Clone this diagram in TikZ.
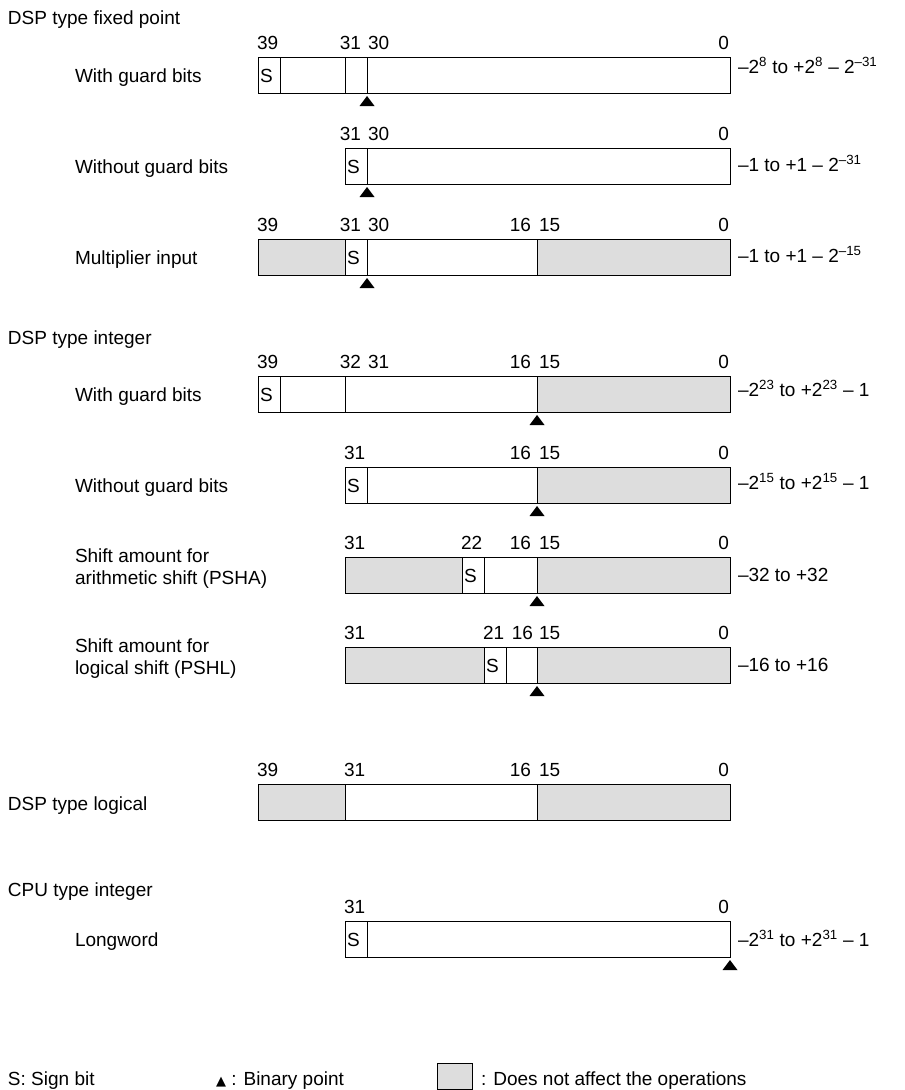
\documentclass[tikz,border=0pt]{standalone}
\usepackage{fontspec}
\setmainfont{Liberation Sans}
\newfontfamily\symfont{DejaVu Sans}
\definecolor{shade}{RGB}{221,221,221}
\newcommand\bcell[4]{\draw[#4] (#1,#3) rectangle (#2,#3+36);}
\newcommand\bpt[2]{\fill (#1,#2+3) -- (#1-7.5,#2+13) -- (#1+7.5,#2+13) -- cycle;}
\newcommand\sbit[2]{\node[anchor=base west] at (#1+2,#2+25) {S};}
\begin{document}
\begin{tikzpicture}[x=1pt,y=-1pt,font=\fontsize{19}{22}\selectfont,
  every node/.style={inner sep=0pt,outer sep=0pt},
  wc/.style={draw=black,fill=white,line width=1pt},
  gc/.style={draw=black,fill=shade,line width=1pt},
  bw/.style={anchor=base west},
  be/.style={anchor=base east}]
\useasboundingbox (0,0) rectangle (905,1090);
% ---------- DSP type fixed point
\node[bw] (t1) at (8,24) {DSP type fixed point};
% R1
\node[bw] (l1) at (75,82) {With guard bits};
\bcell{258}{280}{57}{wc}\bcell{280}{345}{57}{wc}\bcell{345}{367}{57}{wc}\bcell{367}{730}{57}{wc}
\sbit{258}{57}
\node[bw] at (257,49) {39};\node[be] at (361,49) {31};\node[bw] at (368,49) {30};\node[be] at (729,49) {0};
\bpt{367}{93}
\node[bw] (r1) at (738,73) {–2\textsuperscript{8} to +2\textsuperscript{8} – 2\textsuperscript{–31}};
% R2
\node[bw] (l2) at (75,173) {Without guard bits};
\bcell{345}{367}{148}{wc}\bcell{367}{730}{148}{wc}
\sbit{345}{148}
\node[be] at (361,140) {31};\node[bw] at (368,140) {30};\node[be] at (729,140) {0};
\bpt{367}{184}
\node[bw] (r2) at (738,171) {–1 to +1 – 2\textsuperscript{–31}};
% R3
\node[bw] (l3) at (75,264) {Multiplier input};
\bcell{258}{345}{239}{gc}\bcell{345}{367}{239}{wc}\bcell{367}{537}{239}{wc}\bcell{537}{730}{239}{gc}
\sbit{345}{239}
\node[bw] at (257,231) {39};\node[be] at (361,231) {31};\node[bw] at (368,231) {30};
\node[be] at (531,231) {16};\node[bw] at (539,231) {15};\node[be] at (729,231) {0};
\bpt{367}{275}
\node[bw] (r3) at (738,262) {–1 to +1 – 2\textsuperscript{–15}};
% ---------- DSP type integer
\node[bw] (t2) at (8,344) {DSP type integer};
% R4
\node[bw] (l4) at (75,401) {With guard bits};
\bcell{258}{280}{376}{wc}\bcell{280}{345}{376}{wc}\bcell{345}{537}{376}{wc}\bcell{537}{730}{376}{gc}
\sbit{258}{376}
\node[bw] at (257,368) {39};\node[be] at (361,368) {32};\node[bw] at (368,368) {31};
\node[be] at (531,368) {16};\node[bw] at (539,368) {15};\node[be] at (729,368) {0};
\bpt{537}{412}
\node[bw] (r4) at (738,396) {–2\textsuperscript{23} to +2\textsuperscript{23} – 1};
% R5
\node[bw] (l5) at (75,492) {Without guard bits};
\bcell{345}{367}{467}{wc}\bcell{367}{537}{467}{wc}\bcell{537}{730}{467}{gc}
\sbit{345}{467}
\node[bw] at (344,459) {31};
\node[be] at (531,459) {16};\node[bw] at (539,459) {15};\node[be] at (729,459) {0};
\bpt{537}{503}
\node[bw] (r5) at (738,489) {–2\textsuperscript{15} to +2\textsuperscript{15} – 1};
% R6
\node[bw] (l6a) at (75,562) {Shift amount for};
\node[bw] (l6b) at (75,584) {arithmetic shift (PSHA)};
\bcell{345}{462}{557}{gc}\bcell{462}{484}{557}{wc}\bcell{484}{537}{557}{wc}\bcell{537}{730}{557}{gc}
\sbit{462}{557}
\node[bw] at (344,549) {31};\node[bw] at (461,549) {22};
\node[be] at (531,549) {16};\node[bw] at (539,549) {15};\node[be] at (729,549) {0};
\bpt{537}{593}
\node[bw] (r6) at (738,581) {–32 to +32};
% R7
\node[bw] (l7a) at (75,652) {Shift amount for};
\node[bw] (l7b) at (75,674) {logical shift (PSHL)};
\bcell{345}{484}{647}{gc}\bcell{484}{506}{647}{wc}\bcell{506}{537}{647}{wc}\bcell{537}{730}{647}{gc}
\sbit{484}{647}
\node[bw] at (344,639) {31};\node[bw] at (483,639) {21};
\node[be] at (533,639) {16};\node[bw] at (539,639) {15};\node[be] at (729,639) {0};
\bpt{537}{683}
\node[bw] (r7) at (738,671) {–16 to +16};
% ---------- DSP type logical
\node[bw] (t3) at (8,810) {DSP type logical};
\bcell{258}{345}{784}{gc}\bcell{345}{537}{784}{wc}\bcell{537}{730}{784}{gc}
\node[bw] at (257,776) {39};\node[bw] at (344,776) {31};
\node[be] at (531,776) {16};\node[bw] at (539,776) {15};\node[be] at (729,776) {0};
% ---------- CPU type integer
\node[bw] (t4) at (8,896) {CPU type integer};
\node[bw] (l9) at (75,946) {Longword};
\bcell{345}{367}{921}{wc}\bcell{367}{730}{921}{wc}
\sbit{345}{921}
\node[bw] at (344,913) {31};\node[be] at (729,913) {0};
\bpt{730}{957}
\node[bw] (r9) at (738,946) {–2\textsuperscript{31} to +2\textsuperscript{31} – 1};
% ---------- legend
\node[bw] (lg1) at (8,1085) {S: Sign bit};
\node[bw] (lg2) at (216,1085) {{\symfont\fontsize{13}{15}\selectfont ▲} : Binary point};
\draw[gc] (437,1063) rectangle (472,1089.5);
\node[bw] (lg3) at (481,1085) {: Does not affect the operations};
\end{tikzpicture}
\end{document}
